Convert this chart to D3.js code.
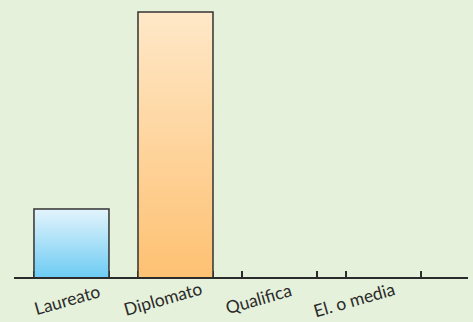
<!DOCTYPE html>
<html>
<head>
<meta charset="utf-8">
<script src="https://cdn.jsdelivr.net/npm/d3@7"></script>
<style>
  body { margin: 0; background: #e5f1da; }
  svg { display: block; }
  .label { font-family: Lato, "Open Sans", sans-serif; font-size: 17.5px; fill: #2b2b2b; }
</style>
</head>
<body>
<svg id="chart"></svg>
<script>
// chart data
const categories = ['Laureato', 'Diplomato', 'Qualifica', 'El. o media'];
const values = [20.6, 79.4, 0, 0];
const gradientIds = ['gradBlue', 'gradOrange', 'gradBlue', 'gradBlue'];

const width = 473, height = 322;
const baseY = 278;

const svg = d3.select('#chart')
    .attr('width', width)
    .attr('height', height);

svg.append('rect')
    .attr('width', width)
    .attr('height', height)
    .attr('fill', '#e5f1da');

// gradients for bars
const defs = svg.append('defs');
const grads = [
  {id: 'gradBlue', top: '#e3f4fc', bottom: '#6ccbf3'},
  {id: 'gradOrange', top: '#ffe8c8', bottom: '#fdc172'}
];
grads.forEach(g => {
  const lg = defs.append('linearGradient')
      .attr('id', g.id)
      .attr('x1', 0).attr('y1', 0).attr('x2', 0).attr('y2', 1);
  lg.append('stop').attr('offset', '0%').attr('stop-color', g.top);
  lg.append('stop').attr('offset', '100%').attr('stop-color', g.bottom);
});

const xScale = d3.scaleBand()
    .domain(categories)
    .range([14, 441])
    .paddingInner(0.279)
    .paddingOuter(0.192);

const yScale = d3.scaleLinear()
    .domain([0, d3.max(values)])
    .range([baseY, 12]);

// label anchors are slightly left of the bands
const labelScale = d3.scalePoint()
    .domain(categories)
    .range([69, 356]);
const labelY = [306, 305, 305, 306];

const data = categories.map((c, i) => ({cat: c, value: values[i], grad: gradientIds[i], ly: labelY[i]}));

// small ticks at band edges (visible for empty bars)
const edges = [];
data.forEach(d => {
  edges.push(xScale(d.cat));
  edges.push(xScale(d.cat) + xScale.bandwidth());
});
svg.selectAll('.tick-mark')
    .data(edges)
    .join('line')
      .attr('class', 'tick-mark')
      .attr('x1', d => d).attr('x2', d => d)
      .attr('y1', baseY).attr('y2', baseY - 7)
      .attr('stroke', '#2b2b2b')
      .attr('stroke-width', 2);

svg.selectAll('.bar')
    .data(data.filter(d => d.value > 0))
    .join('rect')
      .attr('class', 'bar')
      .attr('x', d => xScale(d.cat))
      .attr('y', d => yScale(d.value))
      .attr('width', xScale.bandwidth())
      .attr('height', d => baseY - yScale(d.value))
      .attr('fill', d => `url(#${d.grad})`)
      .attr('stroke', '#333')
      .attr('stroke-width', 1.5);

// baseline
svg.append('line')
    .attr('x1', 14).attr('x2', 468)
    .attr('y1', baseY).attr('y2', baseY)
    .attr('stroke', '#2b2b2b')
    .attr('stroke-width', 2.2);

svg.selectAll('.label')
    .data(data)
    .join('text')
      .attr('class', 'label')
      .attr('text-anchor', 'middle')
      .attr('transform', d => `translate(${labelScale(d.cat)},${d.ly}) rotate(-16)`)
      .text(d => d.cat);
</script>
</body>
</html>
